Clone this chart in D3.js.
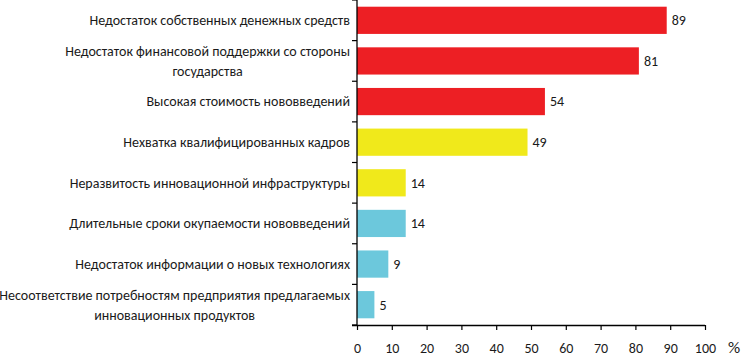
<!DOCTYPE html>
<html>
<head>
<meta charset="utf-8">
<script src="https://cdn.jsdelivr.net/npm/d3@7/dist/d3.min.js"></script>
<style>
body{margin:0;background:#fff;}
svg{display:block;}
text{font-family:"Carlito","Noto Sans",sans-serif;fill:#1a1a1a;}
</style>
</head>
<body>
<svg id="chart" width="742" height="357"></svg>
<script>
const categories = [
  ["Недостаток собственных денежных средств"],
  ["Недостаток финансовой поддержки со стороны", "государства"],
  ["Высокая стоимость нововведений"],
  ["Нехватка квалифицированных кадров"],
  ["Неразвитость инновационной инфраструктуры"],
  ["Длительные сроки окупаемости нововведений"],
  ["Недостаток информации о новых технологиях"],
  ["Несоответствие потребностям предприятия предлагаемых", "инновационных продуктов"]
];
const values = [89, 81, 54, 49, 14, 14, 9, 5];
const groups = ["red", "red", "red", "yellow", "yellow", "blue", "blue", "blue"];
const colorMap = {red: "#ED1F24", yellow: "#F0E91B", blue: "#6CC8DC"};
const xTicks = [0, 10, 20, 30, 40, 50, 60, 70, 80, 90, 100];

const svg = d3.select("#chart");
const mLeft = 357, mRight = 705, mTop = 0, mBottom = 325;

const x = d3.scaleLinear().domain([0, 100]).range([mLeft, mRight]);
const idx = categories.map((d, i) => i);
const y = d3.scaleBand().domain(idx).range([mTop, mBottom]).paddingInner(0.33).paddingOuter(0.165);

// bars
svg.selectAll("rect.bar").data(values).enter().append("rect")
  .attr("class", "bar")
  .attr("x", x(0))
  .attr("y", (d, i) => y(i))
  .attr("width", d => x(d) - x(0))
  .attr("height", y.bandwidth())
  .attr("fill", (d, i) => colorMap[groups[i]]);

// value labels
svg.selectAll("text.val").data(values).enter().append("text")
  .attr("class", "val")
  .attr("x", d => x(d) + 5)
  .attr("y", (d, i) => y(i) + y.bandwidth() / 2)
  .attr("dy", "0.35em")
  .style("font-size", "14px")
  .text(d => d);

// x axis
const xAxis = d3.axisBottom(x).tickValues(xTicks).tickSize(5).tickSizeOuter(0);
const gx = svg.append("g").attr("transform", `translate(0,${mBottom})`).call(xAxis);
gx.select(".domain").attr("d", `M${mLeft - 5},0.5H${mRight}`).attr("stroke", "#000").attr("stroke-width", 1.3);
gx.selectAll(".tick line").attr("stroke", "#000").attr("stroke-width", 1.2);
gx.selectAll(".tick text").attr("y", 28).attr("dy", 0)
  .style("font-size", "14px").style("font-family", "Carlito, 'Noto Sans', sans-serif").attr("fill", "#1a1a1a");

svg.append("text").attr("x", 734).attr("y", 353)
  .attr("text-anchor", "middle").style("font-size", "17px").text("%");

// y axis line and ticks at band boundaries
const bounds = d3.range(categories.length + 1).map(i => mTop + i * (mBottom - mTop) / categories.length);
svg.append("line").attr("x1", mLeft).attr("x2", mLeft).attr("y1", mTop).attr("y2", mBottom)
  .attr("stroke", "#000").attr("stroke-width", 1.3);
svg.selectAll("line.ytick").data(bounds).enter().append("line")
  .attr("class", "ytick")
  .attr("x1", mLeft - 5).attr("x2", mLeft)
  .attr("y1", d => d).attr("y2", d => d)
  .attr("stroke", "#000").attr("stroke-width", 1.2);

// category labels
const lh = 20;
const lab = svg.selectAll("text.cat").data(categories).enter().append("text")
  .attr("class", "cat")
  .attr("text-anchor", "end")
  .style("font-size", "14px")
  .attr("transform", (d, i) => `translate(350,${y(i) + y.bandwidth() / 2})`);
lab.each(function(lines) {
  const t = d3.select(this);
  const n = lines.length;
  lines.forEach((ln, k) => {
    t.append("tspan").attr("x", 0)
      .attr("y", (k - (n - 1) / 2) * lh)
      .attr("dy", "0.35em")
      .attr("text-anchor", n > 1 ? "middle" : "end")
      .text(ln);
  });
});
lab.each(function(lines) {
  if (lines.length < 2) return;
  const t = d3.select(this);
  const spans = t.selectAll("tspan").nodes();
  const w = Math.max(...spans.map(s => s.getComputedTextLength()));
  spans.forEach(s => d3.select(s).attr("x", -w / 2));
});
</script>
</body>
</html>
